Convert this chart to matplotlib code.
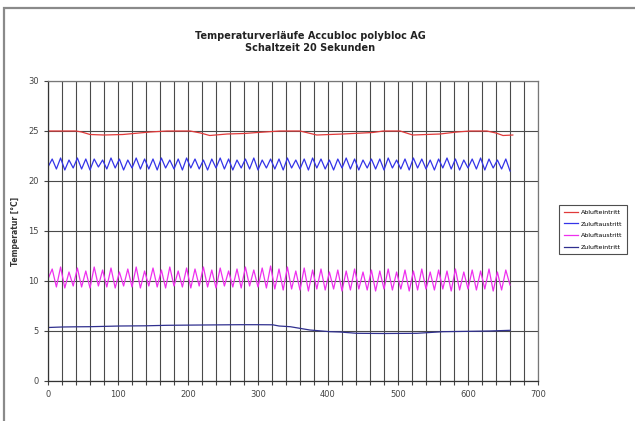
import numpy as np
import matplotlib.pyplot as plt
from matplotlib.patches import Rectangle
from matplotlib.ticker import MultipleLocator

# values
serie_namen = ["Ablufteintritt", "Zuluftaustritt", "Abluftaustritt", "Zulufteintritt"]

abl_ein_t = [0, 20, 40, 48, 60, 80, 107, 130, 146, 170, 203, 218, 231, 256, 280, 299, 331, 346,
             360, 372, 384, 421, 464, 479, 503, 512, 521, 560, 584, 603, 627, 640, 650, 664]
abl_ein = [25.0, 25.0, 25.0, 24.9, 24.65, 24.6, 24.65, 24.8, 24.9, 25.0, 25.0, 24.8, 24.55, 24.7, 24.75, 24.85,
           25.0, 25.0, 25.0, 24.8, 24.6, 24.7, 24.85, 25.0, 25.0, 24.8, 24.6, 24.7, 24.9, 25.0, 25.0, 24.8, 24.55, 24.6]

# Zuluftaustritt / Abluftaustritt: abwechselnd Tief- und Hochpunkte, 0 .. 660
zul_aus = [21.4, 22.2, 21.2, 22.3, 21.1, 22.1, 21.3, 22.3, 21.2, 22.2,
           21.1, 22.2, 21.4, 22.1, 21.2, 22.3, 21.3, 22.2, 21.1, 22.1,
           21.3, 22.3, 21.2, 22.2, 21.2, 22.2, 21.1, 22.3, 21.3, 22.1,
           21.2, 22.2, 21.1, 22.3, 21.3, 22.2, 21.2, 22.1, 21.1, 22.2,
           21.3, 22.3, 21.2, 22.2, 21.1, 22.1, 21.3, 22.2, 21.2, 22.3,
           21.1, 22.1, 21.3, 22.2, 21.2, 22.2, 21.1, 22.3, 21.3, 22.1,
           21.2, 22.2, 21.1, 22.3, 21.3, 22.2, 21.2, 22.1, 21.1, 22.2,
           21.3, 22.3, 21.2, 22.2, 21.1, 22.1, 21.3, 22.2, 21.2, 22.2,
           21.1, 22.3, 21.3, 22.1, 21.2, 22.2, 21.1, 22.3, 21.3, 22.2,
           21.2, 22.1, 21.1, 22.2, 21.3, 22.3, 21.2, 22.2, 21.1, 22.1,
           21.3, 22.2, 21.2, 22.3, 21.1, 22.2, 21.3, 22.1, 21.2, 22.2,
           21.0]

abl_aus = [10.2, 11.2, 9.4, 11.4, 9.3, 10.9, 9.5, 11.3, 9.4, 11.0,
           9.3, 11.4, 9.5, 11.1, 9.4, 11.3, 9.3, 10.9, 9.5, 11.2,
           9.4, 11.4, 9.3, 11.0, 9.5, 11.3, 9.4, 11.1, 9.3, 11.4,
           9.5, 11.0, 9.4, 11.3, 9.3, 11.2, 9.5, 11.4, 9.4, 11.1,
           9.3, 11.3, 9.5, 11.0, 9.4, 11.2, 9.3, 11.4, 9.5, 11.1,
           9.4, 11.3, 9.3, 11.5, 9.2, 11.2, 9.1, 11.4, 9.2, 11.0,
           9.1, 11.3, 9.0, 11.1, 9.2, 11.2, 9.1, 10.9, 9.2, 11.1,
           9.0, 11.0, 9.1, 11.2, 9.2, 10.9, 9.1, 11.1, 9.0, 11.0,
           9.2, 11.2, 9.1, 10.9, 9.2, 11.1, 9.0, 11.0, 9.1, 11.2,
           9.2, 10.9, 9.1, 11.1, 9.2, 11.0, 9.0, 11.2, 9.1, 10.9,
           9.2, 11.1, 9.1, 11.0, 9.2, 11.2, 9.0, 10.9, 9.1, 11.1,
           9.6]

zul_ein_t = [0, 20, 40, 60, 103, 140, 170, 220, 274, 300, 321, 330, 346, 374, 403, 417, 441, 480,
             527, 564, 603, 631, 660]
zul_ein = [5.35, 5.4, 5.42, 5.43, 5.5, 5.52, 5.57, 5.6, 5.63, 5.63, 5.62, 5.5, 5.43, 5.1, 4.93, 4.9,
           4.77, 4.75, 4.77, 4.93, 4.97, 5.0, 5.07]

farben = ["#e03a3a", "#3434e8", "#ee30ee", "#30308f"]

fig = plt.figure(figsize=(6.35, 4.21), dpi=100)
ax = fig.add_axes([48 / 635, 1 - 381 / 421, 490 / 635, 300 / 421])

ax.plot(abl_ein_t, abl_ein, color=farben[0], lw=0.9, label=serie_namen[0])
ax.plot(np.linspace(0, 660, len(zul_aus)), zul_aus, color=farben[1], lw=0.9,
        solid_joinstyle="round", label=serie_namen[1])
ax.plot(np.linspace(0, 660, len(abl_aus)), abl_aus, color=farben[2], lw=0.9,
        solid_joinstyle="round", label=serie_namen[2])
ax.plot(zul_ein_t, zul_ein, color=farben[3], lw=0.9, label=serie_namen[3])

ax.set_xlim(0, 700)
ax.set_ylim(0, 30)
ax.xaxis.set_major_locator(MultipleLocator(100))
ax.xaxis.set_minor_locator(MultipleLocator(20))
ax.yaxis.set_major_locator(MultipleLocator(5))
ax.grid(which="both", axis="x", color="#4a4a4a", lw=0.8)
ax.grid(which="major", axis="y", color="#4a4a4a", lw=0.8)
ax.set_axisbelow(True)
ax.tick_params(which="both", direction="out", length=3, width=0.8, color="#444444",
               labelsize=6, labelcolor="#444444")
for s in ax.spines.values():
    s.set_color("#777777")
    s.set_linewidth(0.9)
ax.spines["left"].set_color("#333333")
ax.spines["bottom"].set_color("#333333")

ax.set_ylabel("Temperatur [°C]", fontsize=5.5, fontweight="bold", color="#333333", labelpad=6)

fig.text(310 / 635, 1 - 42 / 421, "Temperaturverläufe Accubloc polybloc AG\nSchaltzeit 20 Sekunden",
         ha="center", va="center", fontsize=7, fontweight="bold", linespacing=1.3, color="#222222")

leg = fig.legend(loc="upper left", bbox_to_anchor=(556 / 635, 1 - 202 / 421), fontsize=4.5,
                 frameon=True, fancybox=False, handlelength=2.3, borderpad=0.7, labelspacing=1.0,
                 handletextpad=0.5)
leg.get_frame().set_edgecolor("#222222")
leg.get_frame().set_linewidth(0.8)

fig.add_artist(Rectangle((4 / 635, -0.1), 1.2, 1.1 - 8 / 421, transform=fig.transFigure,
                         fill=False, edgecolor="#8a8a8a", lw=1.6))

fig.savefig("out.png", dpi=100)
